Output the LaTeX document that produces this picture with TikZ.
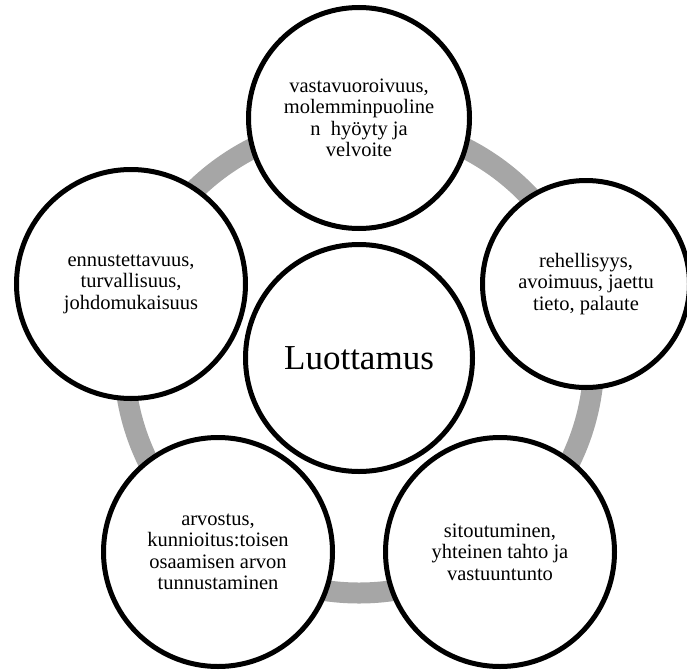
\documentclass[tikz,border=0pt]{standalone}
\usepackage{fontspec}
\setmainfont{Liberation Serif}
\definecolor{ringgray}{RGB}{166,166,166}
\begin{document}
\begin{tikzpicture}[x=1pt, y=-1pt,
  topic/.style={circle, draw=black, line width=5pt, fill=white, align=center,
    inner sep=0pt, font=\fontsize{20.5}{21.5}\selectfont},
  ring/.style={draw=ringgray, line width=21pt}]
  \useasboundingbox (0,0) rectangle (687,669);
  \clip (0,0) rectangle (687,669);

  % Centre
  \coordinate (mid) at (359,358);
  \draw[ring] (mid) circle (235pt);

  % Outer circles
  \node[topic, minimum size=221pt] (vastavuoro) at (359,118)
    {vastavuoroivuus,\\molemminpuoline\\n\ \ hyöyty ja\\velvoite};
  \node[topic, minimum size=207pt] (rehellisyys) at (586,284)
    {rehellisyys,\\avoimuus, jaettu\\tieto, palaute};
  \node[topic, minimum size=229pt] (sitoutuminen) at (500,552)
    {sitoutuminen,\\yhteinen tahto ja\\vastuuntunto};
  \node[topic, minimum size=229pt] (arvostus) at (218,552)
    {arvostus,\\kunnioitus:toisen\\osaamisen arvon\\tunnustaminen};
  \node[topic, minimum size=229pt] (ennuste) at (131,284)
    {ennustettavuus,\\turvallisuus,\\johdomukaisuus};

  \node[topic, minimum size=227pt, font=\fontsize{35}{40}\selectfont] (luottamus) at (mid) {Luottamus};
\end{tikzpicture}
\end{document}
